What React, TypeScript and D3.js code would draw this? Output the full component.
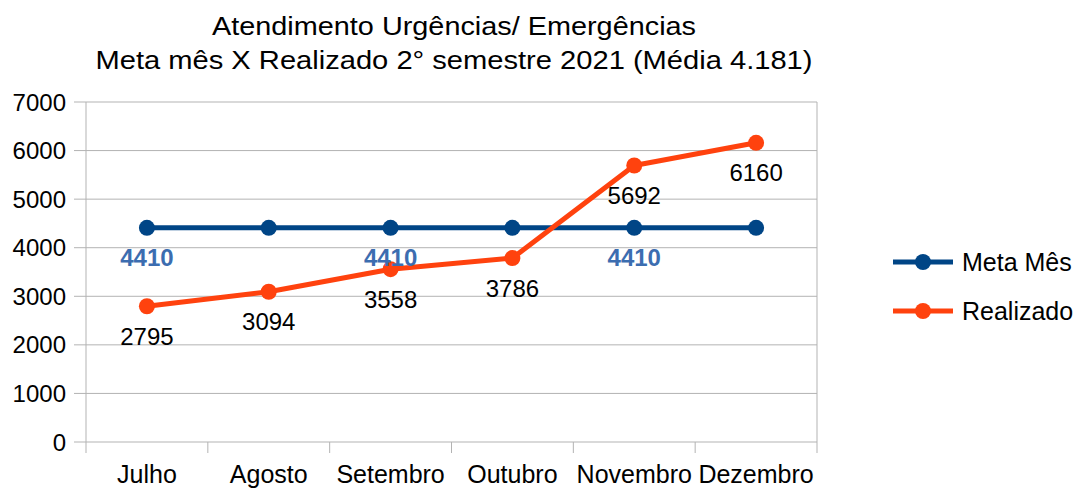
import React from 'react';
import * as d3 from 'd3';

const months = ['Julho', 'Agosto', 'Setembro', 'Outubro', 'Novembro', 'Dezembro'];
const meta = [4410, 4410, 4410, 4410, 4410, 4410];
const realizado = [2795, 3094, 3558, 3786, 5692, 6160];
const yTicks = [0, 1000, 2000, 3000, 4000, 5000, 6000, 7000];
const titleLines = ['Atendimento Urgências/ Emergências', 'Meta mês X Realizado 2° semestre 2021 (Média 4.181)'];
const titleWidths = [484, 717];

const W = 1078;
const H = 488;
const font = 'Liberation Sans, Arial, sans-serif';

const App = () => {
  const x = d3.scaleBand().domain(months).range([86, 817]);
  const y = d3.scaleLinear().domain([0, 7000]).range([442, 102]);
  const cx = (i: number) => (x(months[i]) as number) + x.bandwidth() / 2;
  const line = d3.line<number>()
    .x((_, i) => cx(i))
    .y(d => y(d));

  const series = [
    { name: 'Meta Mês', data: meta, color: '#004586' },
    { name: 'Realizado', data: realizado, color: '#ff420e' },
  ];

  return (
    <svg width={W} height={H} style={{ position: 'absolute', left: 0, top: 0 }} fontFamily={font}>
      <rect width={W} height={H} fill="#fff" />
      {titleLines.map((t, i) => (
        <text key={t} x={454} y={35 + i * 33.5} textAnchor="middle" fontSize={26.5} fill="#000"
          textLength={titleWidths[i]} lengthAdjust="spacingAndGlyphs">{t}</text>
      ))}

      {/* grid */}
      {yTicks.map(t => (
        <g key={t}>
          <line x1={74} x2={817} y1={y(t)} y2={y(t)} stroke="#b3b3b3" strokeWidth={1} />
          <text x={66} y={y(t)} dy="0.36em" textAnchor="end" fontSize={24} fill="#000">{t}</text>
        </g>
      ))}
      <line x1={86} x2={86} y1={102} y2={453} stroke="#b3b3b3" />
      <line x1={817} x2={817} y1={102} y2={442} stroke="#b3b3b3" />
      {months.map((m, i) => (
        <g key={m}>
          <line x1={x(m)! + x.bandwidth()} x2={x(m)! + x.bandwidth()} y1={442} y2={453} stroke="#b3b3b3" />
          <text x={cx(i)} y={483} textAnchor="middle" fontSize={25} fill="#000">{m}</text>
        </g>
      ))}

      {series.map(s => (
        <g key={s.name}>
          <path d={line(s.data) || ''} fill="none" stroke={s.color} strokeWidth={5} strokeLinejoin="round" />
          {s.data.map((v, i) => (
            <circle key={i} cx={cx(i)} cy={y(v)} r={8} fill={s.color} />
          ))}
        </g>
      ))}

      {/* data labels */}
      {meta.map((v, i) => i % 2 === 0 ? (
        <text key={'m' + i} x={cx(i)} y={y(v) + 30} dy="0.36em" textAnchor="middle" fontSize={24} fontWeight="bold" fill="#3c6db0">{v}</text>
      ) : null)}
      {realizado.map((v, i) => (
        <text key={'r' + i} x={cx(i)} y={y(v) + 30} dy="0.36em" textAnchor="middle" fontSize={24} fill="#000">{v}</text>
      ))}

      {/* legend */}
      {series.map((s, i) => (
        <g key={s.name} transform={`translate(0,${262 + i * 49})`}>
          <line x1={893} x2={953} y1={0} y2={0} stroke={s.color} strokeWidth={5} />
          <circle cx={923} cy={0} r={8} fill={s.color} />
          <text x={962} y={0} dy="0.36em" fontSize={25} fill="#000">{s.name}</text>
        </g>
      ))}
    </svg>
  );
};

export default App;
